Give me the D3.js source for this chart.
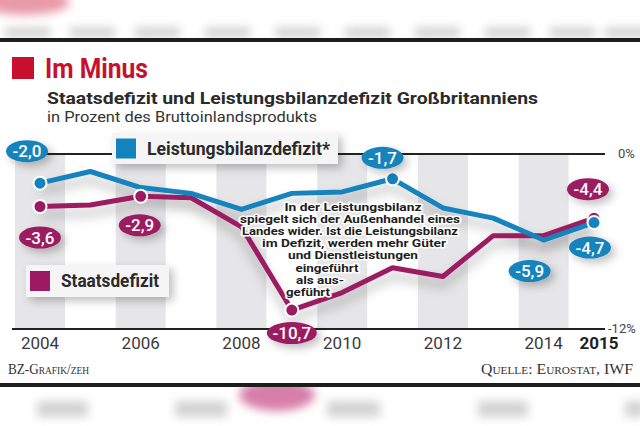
<!DOCTYPE html>
<html><head><meta charset="utf-8">
<script src="https://cdn.jsdelivr.net/npm/d3@7"></script>
<style>body{margin:0;background:#fff}svg{display:block}</style>
</head><body><svg id="c" width="640" height="426" font-family="Roboto, 'Noto Sans', sans-serif"></svg>
<script>
// ---- data ----
const years = [2004,2005,2006,2007,2008,2009,2010,2011,2012,2013,2014,2015];
const leistungsbilanz = [-2.0,-1.2,-2.3,-2.7,-3.8,-2.7,-2.6,-1.7,-3.7,-4.4,-5.9,-4.7];
const staatsdefizit   = [-3.6,-3.5,-2.9,-3.0,-5.0,-10.7,-9.5,-7.8,-8.4,-5.6,-5.6,-4.4];
const xTickYears = [2004,2006,2008,2010,2012,2014,2015];
const bandYears = [2004,2006,2008,2010,2012,2014];
const yTicks = [0,-12];
const yTickLabels = ["0%","-12%"];
const markBlue = [2004,2011,2015];
const markPurple = [2004,2006,2009,2015];
const labelBlue = [2004,2011,2014,2015];
const labelPurple = [2004,2006,2009,2015];
const noteLines = ["In der Leistungsbilanz","spiegelt sich der Außenhandel eines","Landes wider. Ist die Leistungsbilanz","im Defizit, werden mehr Güter","und Dienstleistungen","eingeführt","als aus-","geführt"];
const titleText = "Im Minus";
const subTitle = "Staatsdefizit und Leistungsbilanzdefizit Großbritanniens";
const subSub = "in Prozent des Bruttoinlandsprodukts";
const legendBlue = "Leistungsbilanzdefizit*";
const legendPurple = "Staatsdefizit";
const credit = "BZ-Grafik/zeh";
const source = "Quelle: Eurostat, IWF";

// ---- layout ----
const BLUE = "#1383bd", PURPLE = "#9c1a62", RED = "#c8102e", TXT = "#2a2a2a";
const svg = d3.select("#c");
const x = d3.scaleLinear().domain([2004,2015]).range([40,594]);
const y = d3.scaleLinear().domain([0,-12]).range([154,329]);
const fmt = v => v.toFixed(1).replace(".", ",");

const defs = svg.append("defs");
const f1 = defs.append("filter").attr("id","sh").attr("x","-20%").attr("y","-20%").attr("width","140%").attr("height","160%");
f1.append("feDropShadow").attr("dx",0).attr("dy",8).attr("stdDeviation",6).attr("flood-color","#000").attr("flood-opacity",0.3);
const f2 = defs.append("filter").attr("id","bsh").attr("x","-20%").attr("y","-30%").attr("width","150%").attr("height","180%");
f2.append("feDropShadow").attr("dx",4).attr("dy",4).attr("stdDeviation",4).attr("flood-color","#000").attr("flood-opacity",0.25);
const f3 = defs.append("filter").attr("id","blur").attr("x","-50%").attr("y","-50%").attr("width","200%").attr("height","200%");
f3.append("feGaussianBlur").attr("stdDeviation",5);

// ghost background (blurred neighbouring page content)
const ghost = svg.append("g").attr("filter","url(#blur)");
ghost.append("ellipse").attr("cx",25).attr("cy",2).attr("rx",45).attr("ry",13).attr("fill","#e89aa8");
[30,95,160,230,300,370,440,510,575,630].forEach(cx=>ghost.append("rect").attr("x",cx-25).attr("y",28).attr("width",45).attr("height",9).attr("fill","#cdcdcd"));
ghost.append("ellipse").attr("cx",277).attr("cy",395).attr("rx",38).attr("ry",16).attr("fill","#d77fa8");
[[37,88],[175,227],[327,380],[478,528],[625,645]].forEach(([a,b])=>ghost.append("rect").attr("x",a).attr("y",401).attr("width",b-a).attr("height",16).attr("fill","#d3d3d3"));
svg.append("rect").attr("x",0).attr("y",42).attr("width",640).attr("height",341).attr("fill","#fff");
svg.append("rect").attr("x",0).attr("y",38).attr("width",640).attr("height",4).attr("fill","#1e1e1e");
svg.append("rect").attr("x",0).attr("y",383).attr("width",640).attr("height",4).attr("fill","#1e1e1e");

// title
svg.append("rect").attr("x",12).attr("y",57).attr("width",22).attr("height",22).attr("fill",RED);
svg.append("text").attr("x",45).attr("y",78).attr("font-size",27).attr("font-weight",700).attr("fill",RED)
  .attr("textLength",103).attr("lengthAdjust","spacingAndGlyphs").text(titleText);
svg.append("text").attr("x",47).attr("y",104).attr("font-size",17).attr("font-weight",700).attr("fill",TXT)
  .attr("textLength",491).attr("lengthAdjust","spacingAndGlyphs").text(subTitle);
svg.append("text").attr("x",47).attr("y",122).attr("font-size",15).attr("fill","#333")
  .attr("textLength",270).attr("lengthAdjust","spacingAndGlyphs").text(subSub);

// bands
svg.append("g").selectAll("rect").data(bandYears).join("rect")
  .attr("x",d=>x(d)-25).attr("y",y(0)).attr("width",50).attr("height",y(-12)-y(0)).attr("fill","#e6e6e8");

// gridlines
svg.append("g").selectAll("line").data(yTicks).join("line")
  .attr("x1",12).attr("x2",605).attr("y1",d=>y(d)).attr("y2",d=>y(d)).attr("stroke","#222").attr("stroke-width",2);
svg.append("g").selectAll("text").data(yTicks).join("text")
  .attr("x",d=>d===0?618:608).attr("y",d=>y(d)+4).attr("font-size",13).attr("fill","#444")
  .text((d,i)=>yTickLabels[i]);

// x axis labels
svg.append("g").selectAll("text").data(xTickYears).join("text")
  .attr("x",d=>d===2015?599:x(d)).attr("y",349).attr("text-anchor","middle").attr("font-size",17)
  .attr("font-weight",d=>d===2015?700:400).attr("fill",d=>d===2015?"#222":"#3a3a3a").text(d=>d);

// legend boxes
function legend(bx,by,bw,bh,color,label,tw){
  const g = svg.append("g");
  g.append("rect").attr("x",bx).attr("y",by).attr("width",bw).attr("height",bh).attr("fill","#f5f5f5").attr("filter","url(#bsh)");
  g.append("rect").attr("x",bx+4).attr("y",by+(bh-20)/2).attr("width",20).attr("height",20).attr("fill",color);
  g.append("text").attr("x",bx+35).attr("y",by+bh/2+6).attr("font-size",18).attr("font-weight",700).attr("fill",TXT)
    .attr("textLength",tw).attr("lengthAdjust","spacingAndGlyphs").text(label);
}
legend(112,133,226,31,BLUE,legendBlue,183);
legend(26,265,143,32,PURPLE,legendPurple,98);

// lines
const line = d3.line().x((d,i)=>x(years[i])).y(d=>y(d));
const lg = svg.append("g").attr("filter","url(#sh)");
lg.append("path").attr("d",line(staatsdefizit)).attr("fill","none").attr("stroke",PURPLE).attr("stroke-width",5).attr("stroke-linejoin","round");
lg.append("path").attr("d",line(leistungsbilanz)).attr("fill","none").attr("stroke",BLUE).attr("stroke-width",5).attr("stroke-linejoin","round");

// annotation
const noteX = [353,350,350,354,353,327,320,308];
const noteW = [137,220,216,184,130,63,48,44];
const ng = svg.append("g");
noteLines.forEach((t,i)=>{
  ng.append("text").attr("x",noteX[i]).attr("y",211+i*12.1).attr("text-anchor","middle").attr("font-size",10.5).attr("font-weight",700)
    .attr("fill","#1e1e1e").attr("stroke","#fff").attr("stroke-width",3).attr("stroke-linejoin","round").attr("paint-order","stroke")
    .attr("textLength",noteW[i]).attr("lengthAdjust","spacingAndGlyphs").text(t);
});

// markers
const mk = svg.append("g");
mk.selectAll(".mp").data(markPurple).join("circle").attr("cx",d=>x(d)).attr("cy",d=>y(staatsdefizit[years.indexOf(d)]))
  .attr("r",6.5).attr("fill",PURPLE).attr("stroke","#fff").attr("stroke-width",2);
mk.selectAll(".mb").data(markBlue).join("circle").attr("cx",d=>x(d)).attr("cy",d=>y(leistungsbilanz[years.indexOf(d)]))
  .attr("r",6.5).attr("fill",BLUE).attr("stroke","#fff").attr("stroke-width",2);

// value labels
const offB = {2004:[-13,-32],2011:[-10,-21],2014:[-14,31],2015:[-4,25]};
const offP = {2004:[0,31],2006:[-1,29],2009:[0,23],2015:[-6,-29]};
function badge(yr,vals,off,color){
  const v = vals[years.indexOf(yr)];
  const cx = x(yr)+off[yr][0], cy = y(v)+off[yr][1];
  const t = fmt(v);
  const rx = t.length>4?25:21;
  const g = svg.append("g");
  g.append("ellipse").attr("cx",cx).attr("cy",cy).attr("rx",rx).attr("ry",11).attr("fill",color).attr("filter","url(#bsh)");
  g.append("text").attr("x",cx).attr("y",cy+6).attr("text-anchor","middle").attr("font-size",17).attr("font-weight",500)
    .attr("fill","#fff").text(t);
}
labelBlue.forEach(yr=>badge(yr,leistungsbilanz,offB,BLUE));
labelPurple.forEach(yr=>badge(yr,staatsdefizit,offP,PURPLE));

// footer
const serif = "'Liberation Serif','DejaVu Serif',serif";
svg.append("text").attr("x",8).attr("y",374).attr("font-family",serif).attr("font-size",14)
  .attr("font-variant","small-caps").attr("fill","#333").attr("textLength",81).attr("lengthAdjust","spacingAndGlyphs").text(credit);
svg.append("text").attr("x",633).attr("y",374).attr("text-anchor","end").attr("font-family",serif).attr("font-size",14)
  .attr("font-variant","small-caps").attr("fill","#333").attr("textLength",152).attr("lengthAdjust","spacingAndGlyphs").text(source);
</script></body></html>
